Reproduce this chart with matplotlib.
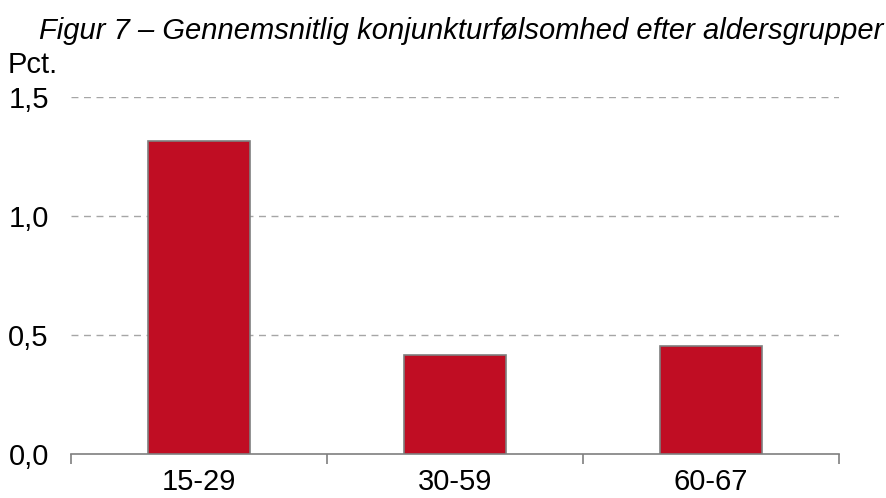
import numpy as np
import matplotlib.pyplot as plt

plt.rcParams['font.family'] = ['Liberation Sans', 'DejaVu Sans']

groups = ['15-29', '30-59', '60-67']
values = [1.315, 0.416, 0.452]
yticks = [0.0, 0.5, 1.0, 1.5]

fig = plt.figure(figsize=(8.87, 4.98), dpi=100)
ax = fig.add_axes([71/887, 1-454/498, 768/887, (454-97)/498])

x = np.arange(len(groups))
ax.bar(x, values, width=0.40, color='#C00D23', edgecolor='#7F7F7F', linewidth=1.2, zorder=3)

ax.set_xlim(-0.5, 2.5)
ax.set_ylim(0, 1.5)
ax.set_yticks(yticks)
ax.set_yticklabels([f'{v:.1f}'.replace('.', ',') for v in yticks], fontsize=21)
ax.tick_params(axis='y', length=0, pad=16)

ax.set_xticks([-0.5, 0.5, 1.5, 2.5])
ax.set_xticklabels([])
ax.tick_params(axis='x', which='major', length=7, color='#7F7F7F', width=1.2)
ax.set_xticks(x, minor=True)
ax.set_xticklabels(groups, minor=True, fontsize=21)
ax.tick_params(axis='x', which='minor', length=0, pad=10)

for v in yticks[1:]:
    ax.axhline(v, color='#A6A6A6', linestyle=(0, (5, 4)), linewidth=1, zorder=1)

for s in ['top', 'right', 'left']:
    ax.spines[s].set_visible(False)
ax.spines['bottom'].set_color('#7F7F7F')
ax.spines['bottom'].set_linewidth(1.2)

fig.text(461/887, 1-31/498, 'Figur 7 – Gennemsnitlig konjunkturfølsomhed efter aldersgrupper',
         fontsize=21, style='italic', ha='center', va='center')
fig.text(8/887, 1-65/498, 'Pct.', fontsize=21, ha='left', va='center')

fig.savefig('out.png', dpi=100)
